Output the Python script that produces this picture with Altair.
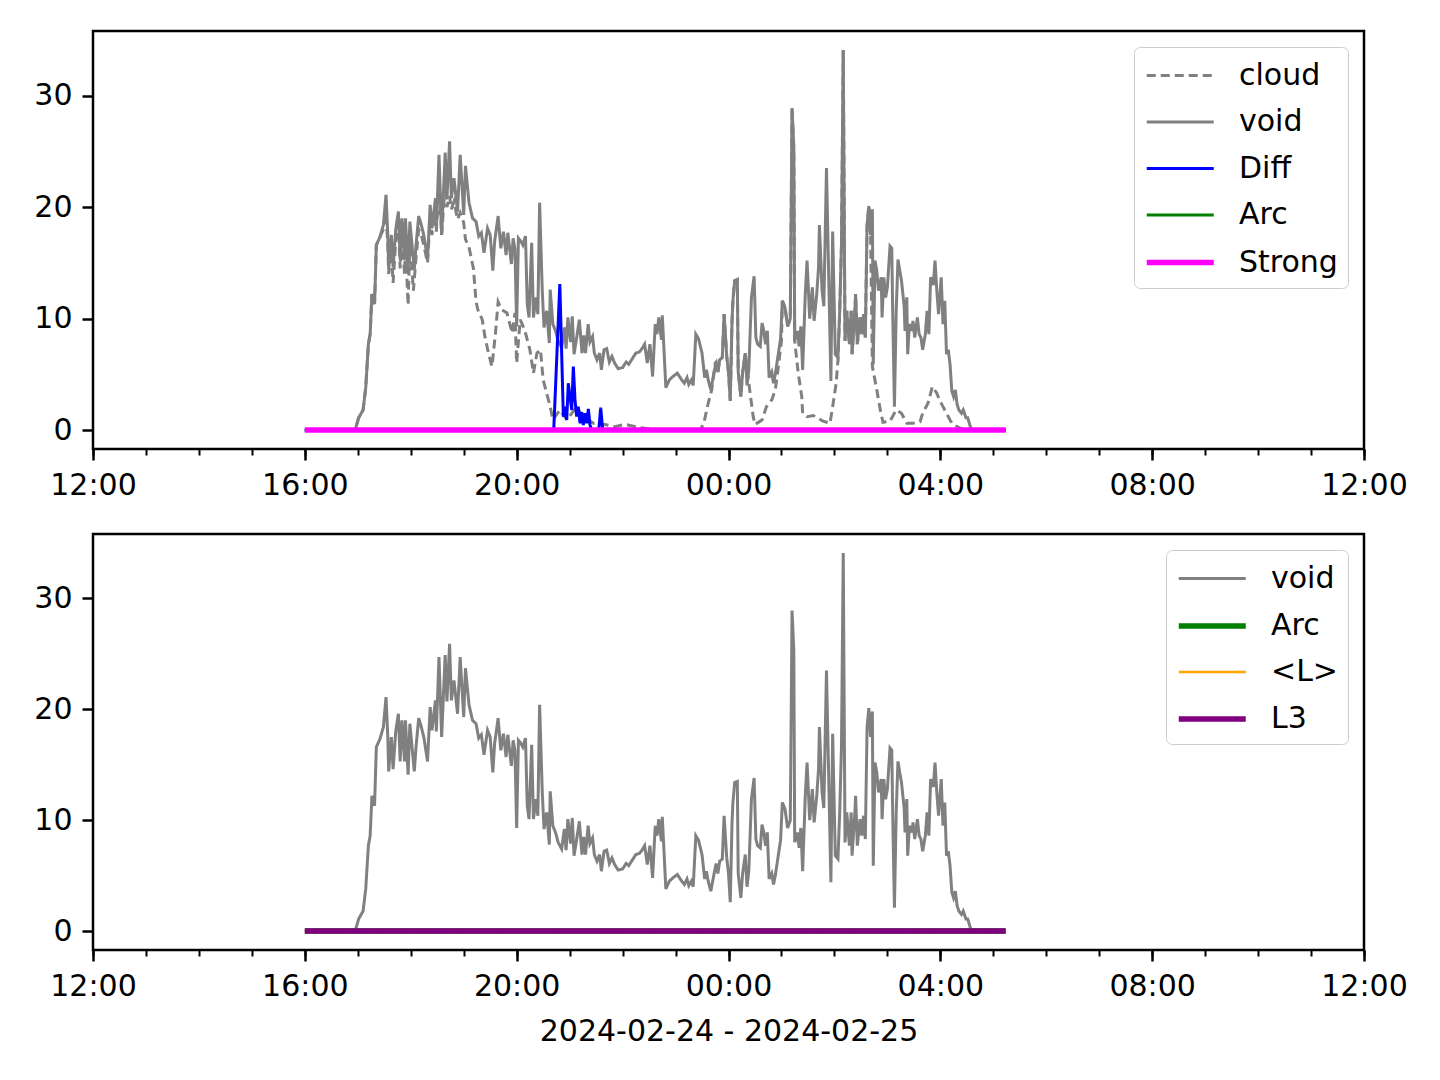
import altair as alt
import pandas as pd

START = pd.Timestamp("2024-02-24 16:00")

# minutes after 2024-02-24 16:00 and values
void_min = [0, 57, 61, 66, 69, 72, 74, 76, 79, 81, 85, 89, 92, 94, 95, 98, 100, 103, 106, 108, 110, 113, 114, 117, 119,
            124, 126, 129, 132, 135, 139, 142, 144, 148, 149, 152, 155, 159, 161, 164, 166, 169, 173, 176, 180, 182,
            186, 190, 194, 197, 200, 203, 207, 210, 213, 215, 219, 222, 225, 228, 230, 234, 236, 238, 240, 242, 245,
            247, 250, 252, 254, 257, 259, 262, 264, 266, 269, 271, 274, 277, 278, 281, 284, 287, 291, 294, 296, 298,
            301, 303, 305, 308, 311, 314, 316, 318, 321, 323, 326, 328, 331, 334, 336, 339, 342, 345, 348, 351, 355,
            360, 364, 367, 371, 375, 379, 382, 385, 388, 391, 394, 397, 399, 401, 404, 405, 409, 413, 417, 422, 427,
            430, 433, 435, 438, 440, 443, 446, 450, 453, 455, 457, 460, 463, 466, 468, 470, 473, 475, 478, 480, 482,
            484, 485, 487, 490, 491, 494, 496, 499, 501, 503, 506, 509, 511, 513, 516, 518, 520, 522, 524, 526, 529,
            531, 533, 536, 539, 541, 544, 547, 550, 552, 554, 555, 558, 560, 562, 564, 567, 569, 572, 575, 577, 580,
            582, 583, 586, 588, 591, 596, 598, 601, 604, 606, 608, 610, 612, 614, 617, 619, 620, 623, 624, 626, 629,
            631, 633, 635, 637, 639, 641, 643, 644, 646, 648, 650, 653, 654, 656, 658, 660, 663, 665, 666, 668, 670,
            672, 674, 676, 679, 680, 682, 683, 685, 688, 689, 691, 694, 696, 698, 700, 703, 705, 707, 709, 712, 714,
            716, 718, 721, 723, 725, 727, 729, 731, 733, 735, 737, 739, 741, 744, 746, 749, 751, 754, 756, 794]
void_val = [0, 0, 1.1, 1.8, 3.8, 7.7, 8.6, 12.2, 11.3, 16.6, 17.3, 18.4, 21.1, 17.5, 14.4, 17.5, 14.6, 18.0, 19.6, 15.3,
            19.0, 15.3, 19.0, 14.1, 18.7, 14.4, 16.6, 19.2, 18.4, 17.4, 15.3, 20.2, 18.1, 20.8, 18.0, 24.7, 17.5, 24.9,
            20.7, 25.9, 20.8, 22.6, 19.6, 24.7, 19.3, 23.7, 20.4, 19.0, 18.7, 17.4, 17.7, 15.9, 18.1, 17.5, 14.3, 16.9,
            19.2, 16.3, 17.8, 15.7, 17.7, 14.9, 17.2, 16.3, 9.3, 17.2, 16.9, 16.6, 17.4, 11.3, 10.1, 16.8, 10.1, 11.9,
            10.4, 20.4, 12.5, 9.2, 10.7, 7.8, 12.6, 9.5, 8.9, 8.0, 7.4, 9.2, 7.3, 10.1, 7.9, 10.2, 6.8, 8.3, 9.9, 6.9,
            8.5, 6.9, 9.5, 7.9, 8.4, 6.9, 6.3, 6.9, 5.4, 7.2, 7.3, 6.1, 6.6, 6.0, 5.5, 5.6, 6.1, 5.9, 6.4, 6.9, 7.0,
            7.3, 7.7, 6.0, 7.7, 4.8, 9.5, 8.6, 10.1, 8.1, 10.3, 3.8, 4.5, 4.8, 5.1, 4.5, 4.2, 4.7, 4.1, 4.5, 4.0, 8.6,
            8.2, 6.9, 4.7, 5.4, 4.5, 3.6, 4.9, 6.1, 5.2, 6.3, 6.5, 10.4, 6.6, 5.2, 2.6, 9.8, 11.6, 13.4, 13.5, 5.2,
            3.0, 5.2, 6.9, 4.0, 5.4, 11.9, 13.8, 8.3, 7.7, 7.5, 9.6, 8.9, 7.7, 8.9, 4.7, 5.2, 4.2, 5.0, 6.6, 8.2, 11.6,
            11.0, 9.3, 10.0, 28.9, 25.3, 8.0, 8.9, 7.5, 9.3, 5.4, 12.2, 15.2, 10.0, 12.8, 9.8, 12.2, 14.6, 18.4, 12.5,
            11.1, 23.5, 4.4, 17.8, 6.8, 6.5, 10.7, 16.6, 34.1, 8.0, 10.7, 7.7, 10.7, 6.8, 10.4, 12.2, 7.7, 10.1, 8.6,
            10.4, 8.3, 18.4, 20.1, 17.5, 19.8, 5.9, 15.2, 14.3, 12.5, 13.7, 10.1, 13.7, 11.9, 12.8, 16.5, 16.3, 10.7,
            2.1, 10.7, 15.3, 14.3, 13.4, 11.1, 8.9, 11.9, 6.8, 9.5, 8.9, 9.8, 8.3, 10.1, 8.6, 8.3, 7.2, 8.6, 10.7, 8.6,
            13.7, 13.0, 15.2, 12.5, 10.4, 13.7, 9.5, 11.6, 6.8, 7.2, 5.9, 3.5, 3.0, 3.6, 2.3, 1.8, 1.5, 1.8, 1.1, 1.1,
            0.3, 0, 0]

cloud_min = [0, 57, 61, 66, 69, 72, 74, 76, 79, 81, 85, 89, 92, 94, 95, 98, 100, 103, 106, 108, 110, 113, 114, 117, 119,
             123, 126, 129, 132, 135, 139, 142, 144, 148, 149, 152, 155, 159, 161, 164, 166, 169, 173, 176, 180, 182,
             186, 191, 194, 196, 201, 204, 208, 212, 216, 219, 223, 229, 235, 238, 240, 244, 249, 255, 259, 263, 267,
             270, 274, 278, 281, 289, 297, 308, 315, 327, 340, 351, 363, 380, 402, 448, 452, 457, 461, 465, 466, 468,
             470, 473, 475, 478, 480, 482, 484, 485, 487, 490, 491, 494, 496, 499, 504, 508, 510, 518, 523, 529, 533,
             536, 540, 541, 544, 547, 550, 552, 554, 555, 559, 563, 564, 569, 576, 587, 595, 598, 602, 604, 606, 608,
             610, 612, 614, 617, 619, 620, 623, 624, 626, 629, 631, 633, 635, 637, 639, 641, 643, 648, 652, 655, 663,
             670, 676, 682, 689, 697, 700, 706, 710, 711, 716, 719, 723, 727, 731, 734, 742, 748, 794]
cloud_val = [0, 0, 1.1, 1.8, 3.8, 7.7, 8.6, 12.2, 11.3, 16.6, 17.3, 18.0, 19.5, 16.5, 14.0, 16.0, 13.2, 17.0, 18.5,
             14.5, 17.5, 14.0, 16.5, 11.2, 17.0, 12.5, 15.5, 18.0, 17.5, 16.5, 15.0, 19.0, 17.5, 20.0, 17.8, 22.0,
             17.5, 22.0, 20.0, 21.0, 19.8, 20.5, 18.9, 19.5, 18.6, 17.1, 16.4, 14.5, 11.5, 10.8, 9.9, 8.4, 6.9, 5.7,
             8.7, 11.5, 10.8, 10.5, 8.7, 10.5, 6.0, 9.9, 9.0, 7.2, 5.1, 6.9, 7.2, 4.5, 3.3, 2.1, 0.9, 1.8, 0.9, 2.1,
             1.2, 0.6, 0.5, 0.3, 0.5, 0.2, 0, 0, 0.6, 2.4, 3.6, 6.0, 6.1, 5.2, 6.3, 6.5, 10.4, 6.6, 5.2, 2.6, 9.8,
             11.6, 13.4, 13.5, 5.2, 3.0, 5.2, 6.9, 3.6, 1.2, 0.5, 0.9, 2.1, 2.7, 3.6, 5.4, 8.0, 11.6, 11.0, 9.3, 10.0,
             28.9, 25.3, 8.0, 5.1, 3.0, 1.5, 1.2, 1.3, 0.8, 0.6, 2.1, 4.2, 6.3, 10.7, 16.6, 34.1, 8.0, 10.7, 7.7, 10.7,
             6.8, 10.4, 12.2, 7.7, 10.1, 8.6, 10.4, 8.3, 18.4, 20.1, 17.5, 5.7, 3.6, 1.8, 0.7, 0.8, 1.8, 1.5, 0.6, 0.6,
             0.75, 1.5, 2.4, 3.6, 3.9, 3.3, 2.7, 2.1, 1.5, 0.9, 0.5, 0.2, 0, 0]

diff_min = [0, 282, 288.9, 292.9, 294.8, 296.7, 298.5, 300.4, 302.4, 304.2, 306.1, 308.0, 309.8, 311.8, 313.7, 315.5,
            317.4, 319.4, 321.2, 323.1, 325.0, 333.0, 335.2, 337.5, 794]
diff_val = [0, 0, 13.1, 1.2, 2.1, 0.9, 4.2, 3.0, 1.8, 5.7, 2.7, 1.2, 2.1, 0.6, 1.6, 0.45, 1.5, 0.6, 1.9, 0.45, 0, 0,
            2.0, 0, 0]

flat_min = [0, 794]
flat_val = [0.0, 0.0]

FONT = "DejaVu Sans"
FS = 30


def frame(name, mins, vals):
    t = [(START + pd.Timedelta(minutes=float(m))).strftime("%Y-%m-%dT%H:%M:%SZ") for m in mins]
    return pd.DataFrame({"t": t, "v": vals, "series": name})


def dt(day, hour):
    return alt.DateTime(year=2024, month=2, date=day, hours=hour, utc=True)


x_domain = [dt(24, 12), dt(25, 12)]
major = [dt(24, h) for h in (12, 16, 20)] + [dt(25, h) for h in (0, 4, 8, 12)]
minor = [dt(24, h) for h in range(12, 24)] + [dt(25, h) for h in range(0, 13)]

y_scale = alt.Scale(domain=[-1.705, 35.805], nice=False, zero=False)
y_axis = alt.Axis(values=[0, 10, 20, 30], title=None, labelFontSize=FS, labelFont=FONT, labelColor="black",
                  tickSize=11, tickWidth=2.5, tickColor="black", labelPadding=10, domain=False, grid=False)


def x_axis_major(title):
    kw = dict(orient="bottom", values=major, format="%H:%M", labelFontSize=FS, labelFont=FONT, labelColor="black",
              tickSize=11, tickWidth=2.5, tickColor="black", labelPadding=10, domain=False, grid=False,
              labelFlush=False, labelOverlap=False)
    if title:
        kw.update(title=title, titleFontSize=FS, titleFont=FONT, titleFontWeight="normal", titleColor="black",
                  titlePadding=15)
    else:
        kw.update(title=None)
    return alt.Axis(**kw)


x_axis_minor = alt.Axis(orient="bottom", values=minor, labels=False, tickSize=6, tickWidth=2, tickColor="black",
                        domain=False, grid=False, title=None)


def panel(df, domain, colors, widths, dashes, title, h):
    legend = alt.Legend(title=None, orient="top-right", offset=16, symbolType="M-1,0H3", symbolSize=1122,
                        labelFontSize=FS, labelFont=FONT, labelColor="black", padding=10,
                        strokeColor="#cccccc", fillColor="rgba(255,255,255,0.85)", cornerRadius=6,
                        rowPadding=12.5, labelOffset=56, symbolFillColor="transparent")
    layers = []
    for i, name in enumerate(domain):
        if i == 0:
            xa = x_axis_major(title)
        elif i == 1:
            xa = x_axis_minor
        else:
            xa = None
        layer = alt.Chart(df).transform_filter(alt.datum.series == name).mark_line(clip=True).encode(
            x=alt.X("t:T", scale=alt.Scale(type="utc", domain=x_domain), axis=xa),
            y=alt.Y("v:Q", scale=y_scale, axis=y_axis),
            color=alt.Color("series:N", scale=alt.Scale(domain=domain, range=colors), legend=legend),
            strokeWidth=alt.StrokeWidth("series:N", scale=alt.Scale(type="ordinal", domain=domain, range=widths),
                                        legend=legend),
            strokeDash=alt.StrokeDash("series:N", scale=alt.Scale(domain=domain, range=dashes), legend=legend),
        )
        layers.append(layer)
    return alt.layer(*layers).resolve_axis(x="independent").properties(width=1271, height=h)


top_df = pd.concat([
    frame("cloud", cloud_min, cloud_val),
    frame("void", void_min, void_val),
    frame("Diff", diff_min, diff_val),
    frame("Arc", flat_min, flat_val),
    frame("Strong", flat_min, flat_val),
], ignore_index=True)

bot_df = pd.concat([
    frame("void", void_min, void_val),
    frame("Arc", flat_min, flat_val),
    frame("<L>", flat_min, flat_val),
    frame("L3", flat_min, flat_val),
], ignore_index=True)

solid = [1, 0]
top = panel(top_df, ["cloud", "void", "Diff", "Arc", "Strong"],
            ["#808080", "#808080", "#0000ff", "#008000", "#ff00ff"],
            [3, 3, 3, 3, 5.5],
            [[9, 5], solid, solid, solid, solid], None, 418)
bottom = panel(bot_df, ["void", "Arc", "<L>", "L3"],
               ["#808080", "#008000", "#ffa500", "#800080"],
               [3, 5.5, 2.5, 5.5],
               [solid, solid, solid, solid], "2024-02-24 - 2024-02-25", 416)

chart = alt.vconcat(top, bottom, spacing=30).resolve_scale(color="independent", strokeWidth="independent",
                                                           strokeDash="independent").properties(
    padding={"left": 24, "top": 21, "right": 10, "bottom": 10},
    background="white",
).configure(font=FONT).configure_view(stroke="black", strokeWidth=2.5)

chart.save("out.html", embed_options={"renderer": "svg", "actions": False})
